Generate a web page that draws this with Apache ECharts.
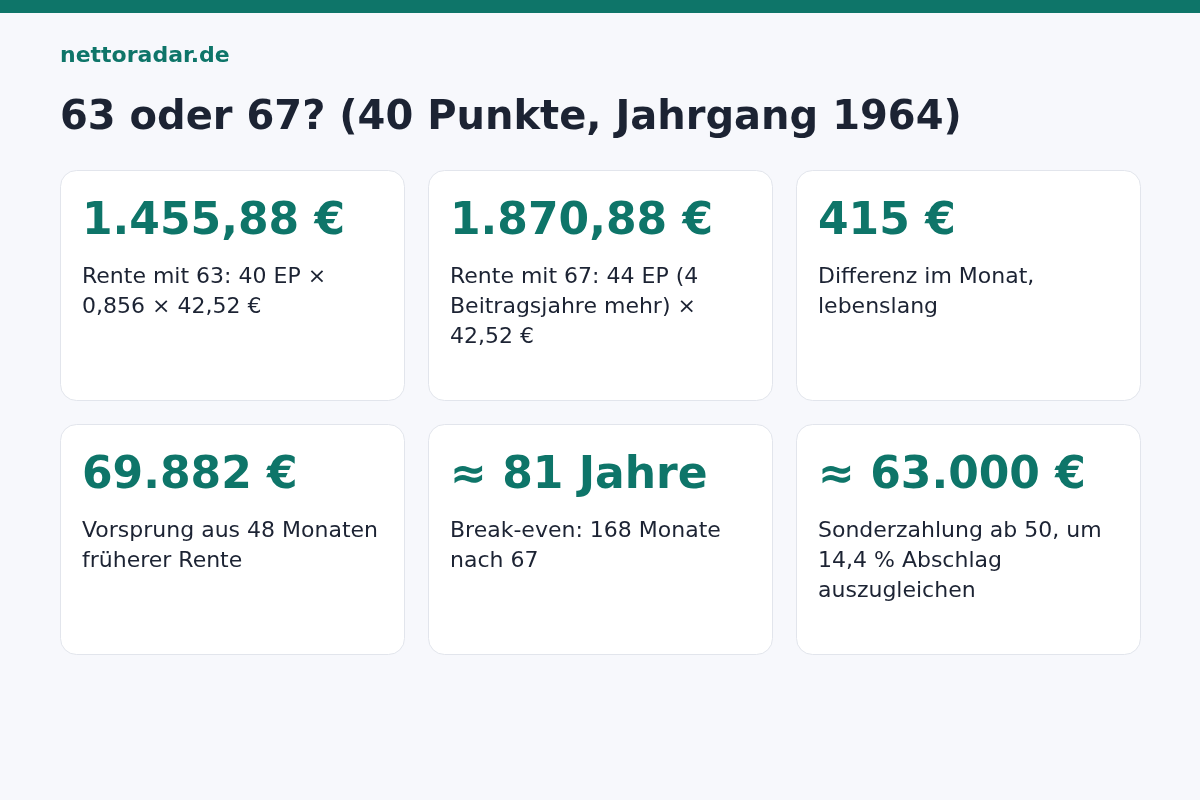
<!DOCTYPE html>
<html><head><meta charset="utf-8">
<script src="https://cdn.jsdelivr.net/npm/echarts@6/dist/echarts.min.js"></script>
<style>html,body{margin:0;padding:0;background:#f7f8fc}#c{width:1200px;height:800px}</style>
</head><body><div id="c"></div>
<script>
const brand = 'nettoradar.de';
const title = '63 oder 67? (40 Punkte, Jahrgang 1964)';
const values = ['1.455,88 €', '1.870,88 €', '415 €', '69.882 €', '≈ 81 Jahre', '≈ 63.000 €'];
const descriptions = [
  'Rente mit 63: 40 EP ×\n0,856 × 42,52 €',
  'Rente mit 67: 44 EP (4\nBeitragsjahre mehr) ×\n42,52 €',
  'Differenz im Monat,\nlebenslang',
  'Vorsprung aus 48 Monaten\nfrüherer Rente',
  'Break-even: 168 Monate\nnach 67',
  'Sonderzahlung ab 50, um\n14,4 % Abschlag\nauszugleichen'
];
const font = 'DejaVu Sans';
const teal = '#0e7569';
const els = [
  {type:'rect', shape:{x:0,y:0,width:1200,height:800}, style:{fill:'#f7f8fc'}},
  {type:'rect', shape:{x:0,y:0,width:1200,height:13}, style:{fill:teal}},
  {type:'text', x:60, y:56, style:{text:brand, fill:teal, font:'bold 22px '+font, textVerticalAlign:'middle'}},
  {type:'text', x:60, y:119, style:{text:title, fill:'#1c2333', font:'bold 40px '+font, textVerticalAlign:'middle'}}
];
values.forEach((v,i)=>{
  const col=i%3, row=Math.floor(i/3);
  const x=60+col*368, y=170+row*254;
  els.push({type:'rect', shape:{x:x+0.5,y:y+0.5,width:344,height:230,r:16}, style:{fill:'#ffffff', stroke:'#e2e5ec', lineWidth:1}});
  els.push({type:'text', x:x+22, y:y+53, style:{text:v, fill:teal, font:'bold 44px '+font, textVerticalAlign:'middle'}});
  els.push({type:'text', x:x+22, y:y+92, style:{text:descriptions[i], fill:'#1c2333', font:'22px '+font, lineHeight:30, textVerticalAlign:'top'}});
});
const chart = echarts.init(document.getElementById('c'));
chart.setOption({animation:false, graphic:{elements:els}});
</script></body></html>
